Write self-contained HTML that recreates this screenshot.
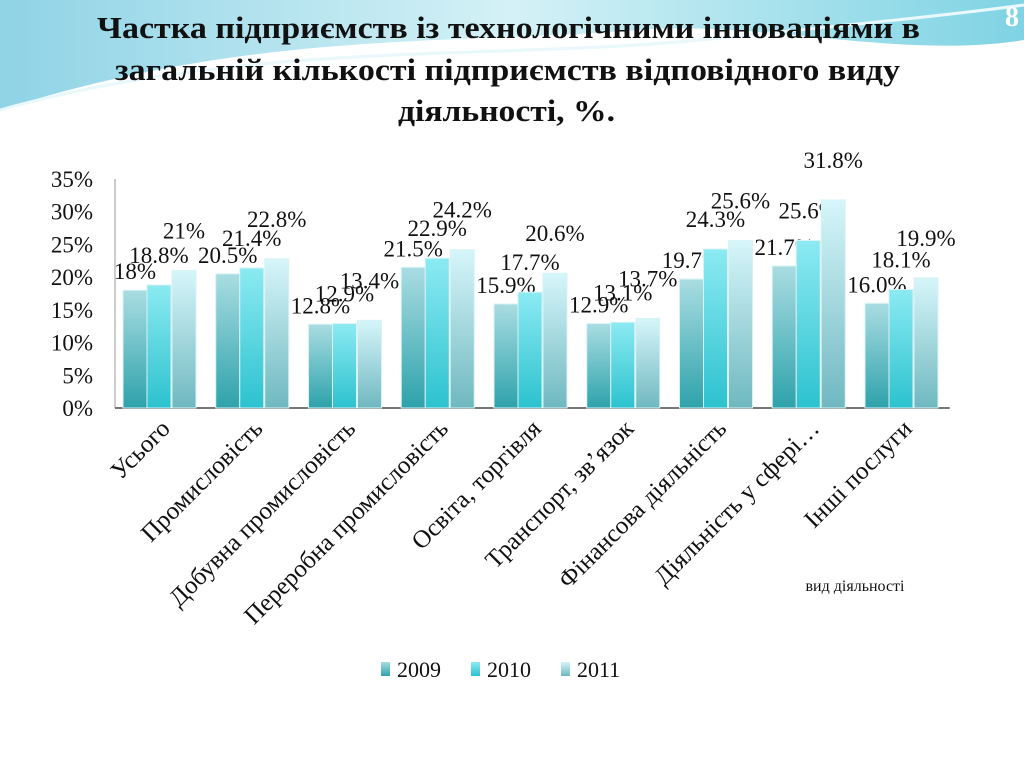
<!DOCTYPE html>
<html><head><meta charset="utf-8"><style>
html,body{margin:0;padding:0;width:1024px;height:768px;overflow:hidden;background:#fff;}
svg{display:block;font-family:"Liberation Serif",serif;}
</style></head><body>
<svg width="1024" height="768" viewBox="0 0 1024 768">
<defs>
<linearGradient id="bg" x1="0" y1="0" x2="1" y2="0"><stop offset="0" stop-color="#8fd3e6"/><stop offset="0.5" stop-color="#d4f1f6"/><stop offset="1" stop-color="#7fd3e4"/></linearGradient>
<linearGradient id="g0" x1="0" y1="0" x2="0" y2="1"><stop offset="0" stop-color="#a9dde2"/><stop offset="1" stop-color="#2ea2ab"/></linearGradient>
<linearGradient id="g1" x1="0" y1="0" x2="0" y2="1"><stop offset="0" stop-color="#8ceaf2"/><stop offset="1" stop-color="#2cc2cf"/></linearGradient>
<linearGradient id="g2" x1="0" y1="0" x2="0" y2="1"><stop offset="0" stop-color="#d6f6fa"/><stop offset="1" stop-color="#6fb8c0"/></linearGradient>
</defs>
<path d="M0 0 H1024 V40 C900 60 760 20 640 30 C450 45 250 30 0 110 Z" fill="url(#bg)"/>
<path d="M0 110 C250 40 500 60 700 40 C850 25 950 15 1024 5" stroke="#e8f8fb" stroke-width="3" fill="none"/>
<text x="1012" y="26" font-size="28" font-weight="bold" fill="#fff" text-anchor="middle">8</text>
<g font-size="31" font-weight="bold" fill="#111">
<text x="97" y="38" textLength="823" lengthAdjust="spacingAndGlyphs">Частка підприємств із технологічними інноваціями в</text>
<text x="115" y="80" textLength="785" lengthAdjust="spacingAndGlyphs">загальній кількості підприємств відповідного виду</text>
<text x="398" y="121" textLength="217" lengthAdjust="spacingAndGlyphs">діяльності, %.</text>
</g>
<g id="chart"></g>
<text x="855" y="591" font-size="16" text-anchor="middle" fill="#111">вид діяльності</text>
<g font-size="22" fill="#111">
<rect x="381" y="662" width="9" height="14" fill="url(#g0)"/><text x="397" y="677">2009</text>
<rect x="471" y="662" width="9" height="14" fill="url(#g1)"/><text x="487" y="677">2010</text>
<rect x="561" y="662" width="9" height="14" fill="url(#g2)"/><text x="577" y="677">2011</text>
</g>
</svg>
<script>
const categories=["Усього","Промисловість","Добувна промисловість","Переробна промисловість","Освіта, торгівля","Транспорт, зв’язок","Фінансова діяльність","Діяльність у сфері…","Інші послуги"];
const v2009=[18,20.5,12.8,21.5,15.9,12.9,19.7,21.7,16.0];
const v2010=[18.8,21.4,12.9,22.9,17.7,13.1,24.3,25.6,18.1];
const v2011=[21,22.8,13.4,24.2,20.6,13.7,25.6,31.8,19.9];
const l2009=["18%","20.5%","12.8%","21.5%","15.9%","12.9%","19.7%","21.7%","16.0%"];
const l2010=["18.8%","21.4%","12.9%","22.9%","17.7%","13.1%","24.3%","25.6%","18.1%"];
const l2011=["21%","22.8%","13.4%","24.2%","20.6%","13.7%","25.6%","31.8%","19.9%"];
const yTicks=[0,5,10,15,20,25,30,35];
const NS="http://www.w3.org/2000/svg";
const g=document.getElementById('chart');
const X0=115,GW=92.75,Y0=408,YT=179,YMAX=35;
const y=v=>Y0-(v/YMAX)*(Y0-YT);
const gx=i=>X0+i*GW;
function mk(t,a){const e=document.createElementNS(NS,t);for(const k in a)e.setAttribute(k,a[k]);g.appendChild(e);return e;}
let ax=mk('line',{x1:X0,y1:YT,x2:X0,y2:Y0,stroke:'#999'});


let bx=mk('line',{x1:X0,y1:Y0,x2:X0+9*GW,y2:Y0,stroke:'#777','stroke-width':2});


yTicks.forEach(t=>{const e=mk('text',{x:93,y:y(t)+8,'font-size':23,'text-anchor':'end',fill:'#111'});e.textContent=t+'%';

});
const series=[[v2009,l2009,8,'g0','2009',-11],[v2010,l2010,32,'g1','2010',-22],[v2011,l2011,57,'g2','2011',-32]];
categories.forEach((c,i)=>{
 series.forEach(([vals,labs,off,grad,yr,dy])=>{
  const bxp=gx(i)+off,top=y(vals[i]);
  const r=mk('rect',{x:bxp,y:top,width:24,height:Y0-top,fill:'url(#'+grad+')',stroke:'#d8f2f5','stroke-width':1});
  
  
  const t=mk('text',{x:bxp+12,y:top+dy,'font-size':23,'text-anchor':'middle',fill:'#111'});t.textContent=labs[i];
  
  
 });
 const cx=gx(i)+GW/2+10;
 const t=mk('text',{x:cx,y:430,'font-size':25,'text-anchor':'end',fill:'#111',transform:'rotate(-45 '+cx+' 430)'});t.textContent=c;
 
 
});
</script>
</body></html>
